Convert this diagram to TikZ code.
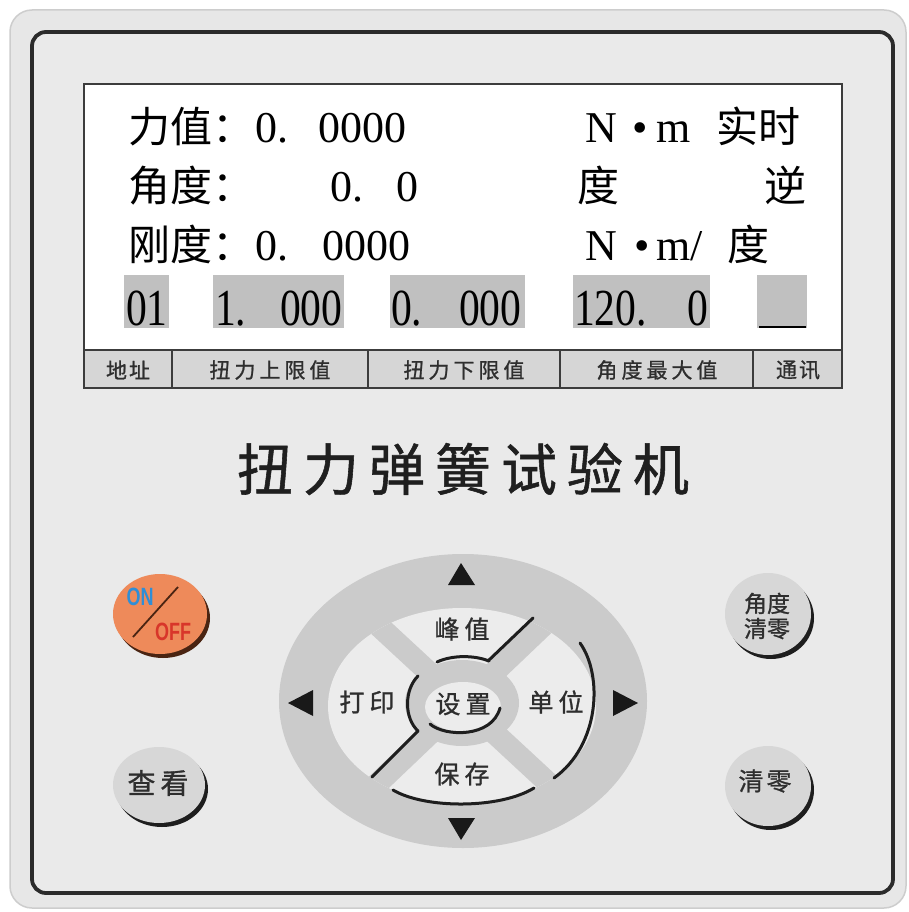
\documentclass[tikz,border=0pt]{standalone}
\usepackage{fontspec}
\setmainfont{Liberation Serif}
\newfontfamily\cjk{Noto Sans CJK SC}
\newfontfamily\cjkb[FakeBold=1]{Noto Sans CJK SC}
\newfontfamily\narrowserif[FakeStretch=0.8]{Liberation Serif}
\newfontfamily\condsans[FakeStretch=0.72]{Liberation Sans}
\newcommand{\gp}[1]{\hspace{#1pt}}
\definecolor{outerpanel}{HTML}{E7E7E7}
\definecolor{outerline}{HTML}{CDCDCD}
\definecolor{innerpanel}{HTML}{EAEAEA}
\definecolor{frameline}{HTML}{2B2B2B}
\definecolor{screenline}{HTML}{3C3C3C}
\definecolor{barfill}{HTML}{D6D6D6}
\definecolor{cellgray}{HTML}{C0C0C0}
\definecolor{textdark}{HTML}{2E2E2E}
\definecolor{ringgray}{HTML}{CBCBCB}
\definecolor{keylight}{HTML}{ECECEC}
\definecolor{btngray}{HTML}{D7D7D7}
\definecolor{btnshadow}{HTML}{1E1E1E}
\definecolor{onoff}{HTML}{EE8A5A}
\definecolor{onoffshadow}{HTML}{4A2412}
\definecolor{onblue}{HTML}{2F8ED6}
\definecolor{offred}{HTML}{D8362A}
\begin{document}
\begin{tikzpicture}[x=1pt,y=-1pt,
  every node/.style={inner sep=0pt,outer sep=0pt},
  lcd/.style={font=\fontsize{44}{44}\selectfont,anchor=base west},
  lcdcjk/.style={font=\cjk\fontsize{42}{42}\selectfont,anchor=base west},
  lcdbig/.style={font=\narrowserif\fontsize{52}{52}\selectfont,anchor=base west},
  barlbl/.style={font=\cjkb\fontsize{21}{21}\selectfont,text=textdark},
  keylbl/.style={font=\cjkb\fontsize{25}{25}\selectfont,text=textdark},
  cellbox/.style={fill=cellgray},
  keyedge/.style={line width=3pt,draw=btnshadow,line cap=round},
  arrowtri/.style={fill=black!90}]
\useasboundingbox (0,0) rectangle (909,912);
\fill[white] (0,0) rectangle (909,912);
% panels
\draw[draw=outerline,line width=1.5pt,fill=outerpanel,rounded corners=22pt] (10,10) rectangle (906,908);
\draw[draw=frameline,line width=3.8pt,fill=innerpanel,rounded corners=14pt] (32,32) rectangle (893,893);
% screen
\draw[draw=screenline,line width=2.5pt,fill=white] (84,84) rectangle (842,388);
\draw[draw=screenline,line width=2pt,fill=barfill] (84,350) rectangle (842,388);
\foreach \xx in {172,368,560,753} \draw[screenline,line width=2pt] (\xx,350) -- (\xx,388);
% row 4 cells
\fill[cellbox] (124,275) rectangle (169,328);
\fill[cellbox] (213,275) rectangle (344,328);
\fill[cellbox] (390,275) rectangle (525,328);
\fill[cellbox] (573,275) rectangle (710,328);
\fill[cellbox] (757,275) rectangle (807,328);
% row 1
\node[lcdcjk] (r1a) at (128,143) {力值：};
\node[lcd] (r1b) at (255,143) {0.};
\node[lcd] (r1c) at (318,143) {0000};
\node[lcd] (r1d) at (585,143) {N};
\node[lcd] (r1e) at (632,143) {•};
\node[lcd] (r1f) at (656,143) {m};
\node[lcdcjk] (r1g) at (716,143) {实时};
% row 2
\node[lcdcjk] (r2a) at (128,201) {角度：};
\node[lcd] (r2b) at (330,201) {0.};
\node[lcd] (r2c) at (396,201) {0};
\node[lcdcjk] (r2d) at (577,201) {度};
\node[lcdcjk] (r2e) at (764,201) {逆};
% row 3
\node[lcdcjk] (r3a) at (128,260) {刚度：};
\node[lcd] (r3b) at (255,260) {0.};
\node[lcd] (r3c) at (322,260) {0000};
\node[lcd] (r3d) at (585,260) {N};
\node[lcd] (r3e) at (634,260) {•};
\node[lcd] (r3f) at (656,260) {m/};
\node[lcdcjk] (r3g) at (727,260) {度};
% row 4
\node[lcdbig] (r4a) at (126,325) {01};
\node[lcdbig] (r4b) at (215,325) {1.};
\node[lcdbig] (r4c) at (280,325) {000};
\node[lcdbig] (r4d) at (391,325) {0.};
\node[lcdbig] (r4e) at (459,325) {000};
\node[lcdbig] (r4f) at (574,325) {120.};
\node[lcdbig] (r4g) at (687,325) {0};
\draw[line width=2pt] (759,327) -- (806,327);
% label bar
\node[barlbl] (b1) at (128,370) {地\gp{2}址};
\node[barlbl] (b2) at (270,370) {扭\gp{4}力\gp{4}上\gp{4}限\gp{4}值};
\node[barlbl] (b3) at (464,370) {扭\gp{4}力\gp{4}下\gp{4}限\gp{4}值};
\node[barlbl] (b4) at (657,370) {角\gp{4}度\gp{4}最\gp{4}大\gp{4}值};
\node[barlbl] (b5) at (798,370) {通\gp{2}讯};
% title
\node[font=\cjkb\fontsize{56}{56}\selectfont,text=black!88] (title) at (463,469)
  {扭\gp{10}力\gp{10}弹\gp{10}簧\gp{10}试\gp{10}验\gp{10}机};
% ON/OFF button
\fill[onoffshadow] (163,618) ellipse [x radius=47,y radius=40];
\fill[onoff] (160,614) ellipse [x radius=47,y radius=40];
\draw[onoffshadow,line width=1.8pt] (178,587) -- (133,637);
\node[font=\condsans\bfseries\fontsize{25}{25}\selectfont,text=onblue] (on) at (140,597) {ON};
\node[font=\condsans\bfseries\fontsize{25}{25}\selectfont,text=offred] (off) at (173,632) {OFF};
% grey buttons
\fill[btnshadow] (162,789) ellipse [x radius=46,y radius=38];
\fill[btngray] (159,785) ellipse [x radius=46,y radius=38];
\node[font=\cjkb\fontsize{28}{28}\selectfont,text=textdark] (view) at (158,783) {查\gp{5}看};
\fill[btnshadow] (771,618) ellipse [x radius=43,y radius=41];
\fill[btngray] (768,614) ellipse [x radius=43,y radius=41];
\node[font=\cjkb\fontsize{23}{25}\selectfont,text=textdark,align=center] (angzero) at (767,616) {角度\\清零};
\fill[btnshadow] (771,790) ellipse [x radius=43,y radius=40];
\fill[btngray] (768,786) ellipse [x radius=43,y radius=40];
\node[font=\cjkb\fontsize{25}{25}\selectfont,text=textdark] (zero) at (765,781) {清\gp{3}零};
% keypad
\fill[ringgray] (463,701) ellipse [x radius=184,y radius=147];
\fill[keylight] (462,706) ellipse [x radius=134,y radius=98];
\begin{scope}
  \clip (462,706) ellipse [x radius=134,y radius=98];
  \draw[ringgray,line width=22pt] (312,564) -- (612,842);
  \draw[ringgray,line width=22pt] (312,846) -- (612,560);
\end{scope}
\fill[ringgray] (462,703) ellipse [x radius=57,y radius=43];
\fill[keylight] (463,707) ellipse [x radius=38,y radius=25];
% key edges
\draw[keyedge] (533,618) -- (488,661);
\draw[keyedge] (437,662) .. controls (452,655) and (474,655) .. (489,661);
\draw[keyedge] (580,643) .. controls (603,675) and (600,745) .. (554,778);
\draw[keyedge] (393,790) .. controls (425,809) and (500,809) .. (534,788);
\draw[keyedge] (418,731) -- (372,777);
\draw[keyedge] (418,676) .. controls (404,690) and (404,718) .. (418,731);
\draw[keyedge] (430,724) .. controls (445,737) and (492,738) .. (500,708);
% arrows
\fill[arrowtri] (448,585) -- (461,563) -- (475,585) -- cycle;
\fill[arrowtri] (448,818) -- (475,818) -- (461,840) -- cycle;
\fill[arrowtri] (313,690) -- (288,703) -- (313,716) -- cycle;
\fill[arrowtri] (613,690) -- (638,703) -- (613,716) -- cycle;
% key labels
\node[keylbl] (peak) at (462,629) {峰\gp{5}值};
\node[keylbl] (print) at (367,702) {打\gp{5}印};
\node[keylbl] (unit) at (556,702) {单\gp{5}位};
\node[keylbl] (save) at (462,774) {保\gp{5}存};
\node[keylbl] (setk) at (463,704) {设\gp{5}置};
\end{tikzpicture}
\end{document}
